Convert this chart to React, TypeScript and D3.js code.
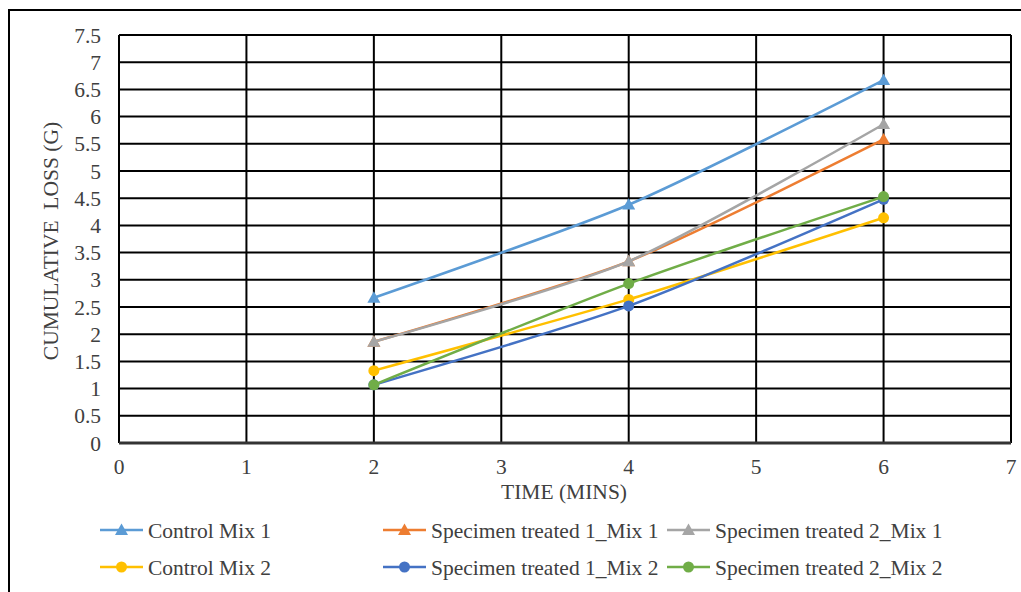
import React from "react";
import * as d3 from "d3";

const times = [2, 4, 6];
const seriesNames = [
  "Control Mix 1",
  "Specimen treated 1_Mix 1",
  "Specimen treated 2_Mix 1",
  "Control Mix 2",
  "Specimen treated 1_Mix 2",
  "Specimen treated 2_Mix 2",
];
const controlMix1 = [2.67, 4.38, 6.67];
const treated1Mix1 = [1.86, 3.34, 5.58];
const treated2Mix1 = [1.86, 3.34, 5.86];
const controlMix2 = [1.33, 2.64, 4.14];
const treated1Mix2 = [1.07, 2.52, 4.48];
const treated2Mix2 = [1.07, 2.93, 4.53];
const seriesValues = [controlMix1, treated1Mix1, treated2Mix1, controlMix2, treated1Mix2, treated2Mix2];
const seriesColors = ["#5B9BD5", "#ED7D31", "#A5A5A5", "#FFC000", "#4472C4", "#70AD47"];
const seriesMarkers = ["triangle", "triangle", "triangle", "circle", "circle", "circle"];
const xTicks = [0, 1, 2, 3, 4, 5, 6, 7];
const yTicks = [0, 0.5, 1, 1.5, 2, 2.5, 3, 3.5, 4, 4.5, 5, 5.5, 6, 6.5, 7, 7.5];

const W = 1021;
const H = 592;
const left = 119;
const right = 1011;
const top = 35;
const bottom = 443;
const FONT = "Liberation Serif, DejaVu Serif, serif";
const FS = 21.5;
const txt = { fontFamily: FONT } as React.CSSProperties;

function Marker({ type, x, y, color }: { type: string; x: number; y: number; color: string }) {
  if (type === "circle") return <circle cx={x} cy={y} r={5.5} fill={color} />;
  const s = 6.5;
  return (
    <path
      d={`M${x},${y - s} L${x + s},${y + s * 0.75} L${x - s},${y + s * 0.75} Z`}
      fill={color}
    />
  );
}

export default function App() {
  const x = d3.scaleLinear().domain([0, 7]).range([left, right]);
  const y = d3.scaleLinear().domain([0, 7.5]).range([bottom, top]);
  const line = d3
    .line<[number, number]>()
    .x((d) => x(d[0]))
    .y((d) => y(d[1]))
    .curve(d3.curveCardinal.tension(0.3));

  const legendCols = [100, 383, 667];
  const legendRows = [530, 567];

  return (
    <svg width={W} height={H} style={{ position: "absolute", left: 0, top: 0 }}>
      <rect x={0} y={0} width={W} height={H} fill="#fff" />
      <rect x={9} y={10} width={W + 10} height={H + 10} fill="none" stroke="#000" strokeWidth={2} />
      {yTicks.map((t) => (
        <line key={"h" + t} x1={left} x2={right} y1={y(t)} y2={y(t)} stroke="#000" strokeWidth={2} />
      ))}
      {xTicks.map((t) => (
        <line key={"v" + t} x1={x(t)} x2={x(t)} y1={top} y2={bottom} stroke="#000" strokeWidth={2} />
      ))}
      <line x1={left} x2={right} y1={bottom} y2={bottom} stroke="#333" strokeWidth={3} />
      {yTicks.map((t) => (
        <text key={"yt" + t} x={101} y={y(t)} dy="0.35em" textAnchor="end" fontSize={FS} fill="#404040" style={txt}>
          {t}
        </text>
      ))}
      {xTicks.map((t) => (
        <text key={"xt" + t} x={x(t)} y={474} textAnchor="middle" fontSize={FS} fill="#404040" style={txt}>
          {t}
        </text>
      ))}
      <text x={564} y={499} textAnchor="middle" fontSize={FS} fill="#404040" style={txt}>
        TIME (MINS)
      </text>
      <text
        transform={`translate(58,241) rotate(-90)`}
        textAnchor="middle"
        fontSize={FS}
        fill="#404040"
        style={{ ...txt, whiteSpace: "pre" }}
      >
        {"CUMULATIVE  LOSS (G)"}
      </text>
      {seriesValues.map((vals, i) => {
        const pts = times.map((t, j) => [t, vals[j]] as [number, number]);
        return (
          <g key={"s" + i}>
            <path d={line(pts) || ""} fill="none" stroke={seriesColors[i]} strokeWidth={2.5} />
            {pts.map((p, j) => (
              <Marker key={j} type={seriesMarkers[i]} x={x(p[0])} y={y(p[1])} color={seriesColors[i]} />
            ))}
          </g>
        );
      })}
      {seriesNames.map((name, i) => {
        const lx = legendCols[i % 3];
        const ly = legendRows[Math.floor(i / 3)];
        return (
          <g key={"l" + i}>
            <line x1={lx} x2={lx + 43} y1={ly} y2={ly} stroke={seriesColors[i]} strokeWidth={2.5} />
            <Marker type={seriesMarkers[i]} x={lx + 21.5} y={ly} color={seriesColors[i]} />
            <text x={lx + 48} y={ly} dy="0.35em" fontSize={FS} fill="#404040" style={txt}>
              {name}
            </text>
          </g>
        );
      })}
    </svg>
  );
}
